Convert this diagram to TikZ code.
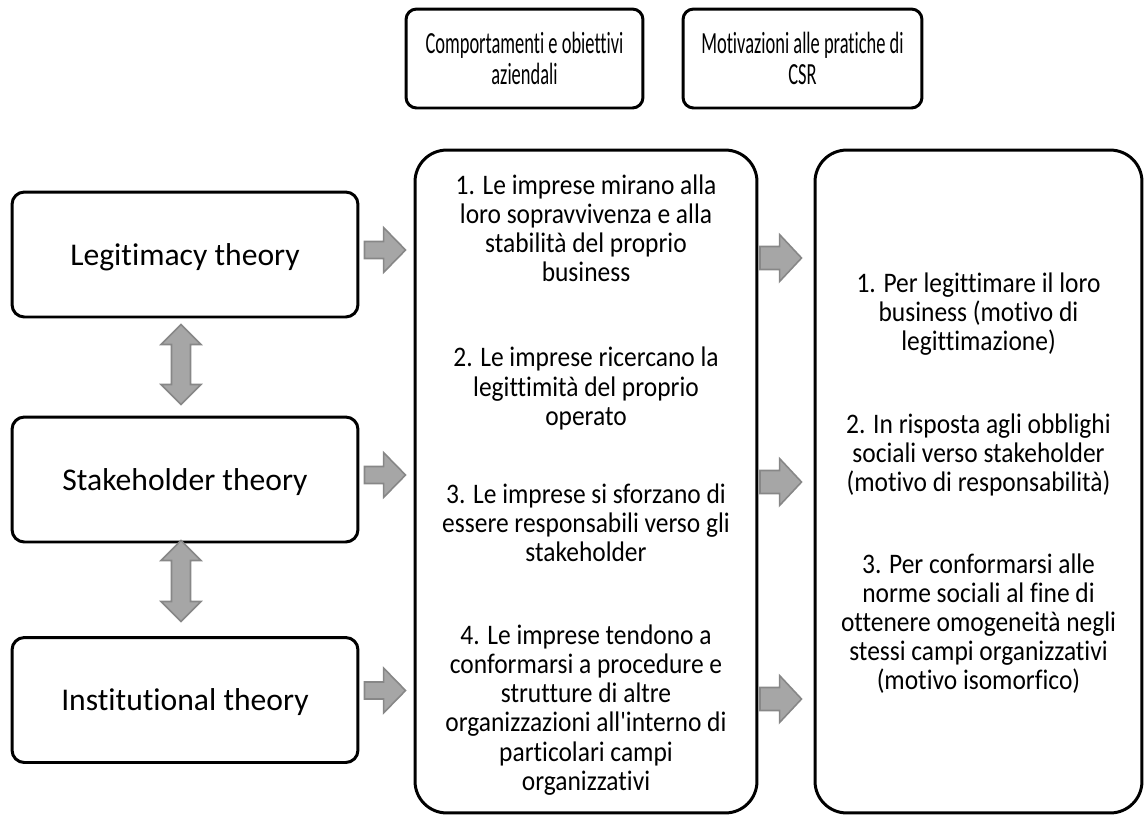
\documentclass[tikz,border=0pt]{standalone}
\usepackage{fontspec}
\setmainfont{Carlito}[Ligatures=CommonOff]
\newfontfamily\bodycarlito{Carlito}[Ligatures=CommonOff, FakeStretch=0.9]
\newfontfamily\narrowcarlito{Carlito}[Ligatures=CommonOff, FakeStretch=0.6]
\usetikzlibrary{calc}

\definecolor{arrowgray}{HTML}{A6A6A6}
\definecolor{arrowedge}{HTML}{878787}

% block arrow pointing right: tail, tip, shaft half-height, head half-height, head length
\newcommand\fatright[5]{%
  \draw[blockarrow] ($(#1)+(0,-#3)$) -- ($(#2)+(-#5,-#3)$) -- ($(#2)+(-#5,-#4)$) -- (#2)
    -- ($(#2)+(-#5,#4)$) -- ($(#2)+(-#5,#3)$) -- ($(#1)+(0,#3)$) -- cycle;}
% vertical double block arrow: top tip, bottom tip, shaft half-width, head half-width, head length
\newcommand\fatvert[5]{%
  \draw[blockarrow] (#1) -- ($(#1)+(#4,#5)$) -- ($(#1)+(#3,#5)$) -- ($(#2)+(#3,-#5)$)
    -- ($(#2)+(#4,-#5)$) -- (#2) -- ($(#2)+(-#4,-#5)$) -- ($(#2)+(-#3,-#5)$)
    -- ($(#1)+(-#3,#5)$) -- ($(#1)+(-#4,#5)$) -- cycle;}

\begin{document}
\begin{tikzpicture}[x=0.02cm,y=-0.02cm,
  frame/.style={draw=black, line width=1.7pt, rounded corners=7pt, fill=white, inner sep=0pt},
  theory/.style={frame, minimum width=6.92cm, minimum height=2.5cm, text depth=0pt,
    font=\fontsize{18}{21}\selectfont},
  header/.style={frame, rounded corners=6pt, minimum height=1.98cm, align=center,
    font=\narrowcarlito\fontsize{17.5}{18}\selectfont},
  column/.style={frame, rounded corners=18pt, minimum height=13.26cm},
  item/.style={align=center, inner sep=0pt, font=\bodycarlito\fontsize{16.1}{16.6}\selectfont},
  blockarrow/.style={fill=arrowgray, draw=arrowedge, line width=0.9pt, line join=miter},
]
\useasboundingbox (0,0) rectangle (1146,816);

% theories
\node[theory] (leg) at (185,254.5) {Legitimacy theory};
\node[theory] (stk) at (185,479.5) {Stakeholder theory};
\node[theory] (ins) at (185,700) {Institutional theory};

% column headers
\node[header, minimum width=4.74cm] (hbeh) at (524.5,58.5) {Comportamenti e obiettivi\\aziendali};
\node[header, minimum width=4.78cm] (hmot) at (802.5,58.5) {Motivazioni alle pratiche di\\CSR};

% tall columns
\node[column, minimum width=6.84cm] (beh) at (586,481.5) {};
\node[column, minimum width=6.54cm] (mot) at (978.5,481.5) {};

% behaviours and objectives
\node[item] (b1) at (586,228.5) {1. Le imprese mirano alla\\loro sopravvivenza e alla\\stabilità del proprio\\business};
\node[item] (b2) at (586,388.5) {2. Le imprese ricercano la\\legittimità del proprio\\operato};
\node[item] (b3) at (586,523) {3. Le imprese si sforzano di\\essere responsabili verso gli\\stakeholder};
\node[item] (b4) at (586,710) {4. Le imprese tendono a\\conformarsi a procedure e\\strutture di altre\\organizzazioni all{\char"27}interno di\\particolari campi\\organizzativi};

% motivations
\node[item] (m1) at (978.5,314) {1. Per legittimare il loro\\business (motivo di\\legittimazione)};
\node[item] (m2) at (978.5,455) {2. In risposta agli obblighi\\sociali verso stakeholder\\(motivo di responsabilità)};
\node[item] (m3) at (978.5,623.5) {3. Per conformarsi alle\\norme sociali al fine di\\ottenere omogeneità negli\\stessi campi organizzativi\\(motivo isomorfico)};

% arrows: theories -> behaviours
\coordinate (lt1) at ($(leg.east)+(5,-4.5)$);
\coordinate (lh1) at ($(lt1 -| beh.west)+(-8,0)$);
\coordinate (lt2) at ($(stk.east)+(5,-4.5)$);
\coordinate (lh2) at ($(lt2 -| beh.west)+(-8,0)$);
\coordinate (lt3) at ($(ins.east)+(5,-9.5)$);
\coordinate (lh3) at ($(lt3 -| beh.west)+(-8,0)$);
\fatright{lt1}{lh1}{8.5}{22.5}{22}
\fatright{lt2}{lh2}{8.5}{22.5}{22}
\fatright{lt3}{lh3}{8.5}{22.5}{22}

% arrows: behaviours -> motivations
\coordinate (rt1) at ($(beh.east)+(1.5,-223.5)$);
\coordinate (rh1) at ($(rt1 -| mot.west)+(-12,0)$);
\coordinate (rt2) at ($(beh.east)+(1.5,0.5)$);
\coordinate (rh2) at ($(rt2 -| mot.west)+(-12,0)$);
\coordinate (rt3) at ($(beh.east)+(1.5,217.5)$);
\coordinate (rh3) at ($(rt3 -| mot.west)+(-12,0)$);
\fatright{rt1}{rh1}{11.5}{23.5}{22}
\fatright{rt2}{rh2}{11.5}{23.5}{22}
\fatright{rt3}{rh3}{11.5}{23.5}{22}

% links between theories
\coordinate (v1t) at ($(leg.south)+(-4,6)$);
\coordinate (v1b) at ($(stk.north)+(-4,-11)$);
\coordinate (v2t) at ($(stk.south)+(-4,-3)$);
\coordinate (v2b) at ($(ins.north)+(-4,-14.5)$);
\fatvert{v1t}{v1b}{9.5}{20}{20}
\fatvert{v2t}{v2b}{9.5}{20}{20}
\end{tikzpicture}
\end{document}
